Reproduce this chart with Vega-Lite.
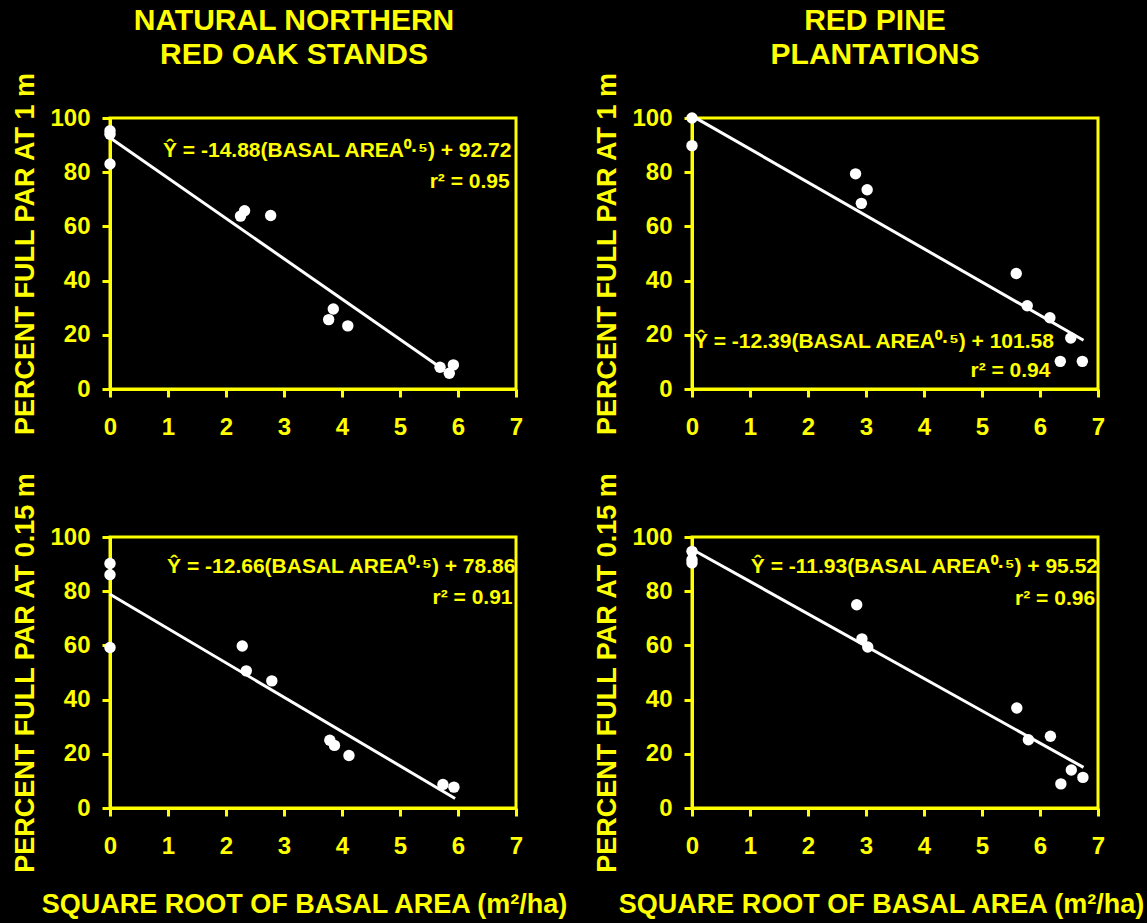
{
  "$schema": "https://vega.github.io/schema/vega-lite/v6.json",
  "background": "black",
  "padding": {"left": 10, "top": 4, "right": 5, "bottom": 5},
  "config": {
    "view": {"stroke": "#FFFF00", "strokeWidth": 3},
    "axis": {
      "domainColor": "#FFFF00", "domainWidth": 3,
      "tickColor": "#FFFF00", "tickWidth": 3, "tickSize": 8,
      "labelColor": "#FFFF00", "labelFont": "Liberation Sans", "labelFontSize": 24, "labelFontWeight": "bold",
      "titleColor": "#FFFF00", "titleFont": "Liberation Sans", "titleFontSize": 27, "titleFontWeight": "bold",
      "grid": false, "labelOverlap": false, "labelBound": false, "labelFlush": false
    },
    "title": {"color": "#FFFF00", "font": "Liberation Sans", "fontSize": 30, "fontWeight": "bold", "lineHeight": 34}
  },
  "datasets": {
    "pts": [
      {"panel": "A", "x": 0, "y": 95.3}, {"panel": "A", "x": 0, "y": 94}, {"panel": "A", "x": 0, "y": 83},
      {"panel": "A", "x": 2.25, "y": 63.8}, {"panel": "A", "x": 2.32, "y": 65.8}, {"panel": "A", "x": 2.77, "y": 64},
      {"panel": "A", "x": 3.77, "y": 25.6}, {"panel": "A", "x": 3.85, "y": 29.5}, {"panel": "A", "x": 4.1, "y": 23.3},
      {"panel": "A", "x": 5.69, "y": 8}, {"panel": "A", "x": 5.85, "y": 5.8}, {"panel": "A", "x": 5.92, "y": 8.9},
      {"panel": "B", "x": 0, "y": 100}, {"panel": "B", "x": 0, "y": 89.8}, {"panel": "B", "x": 2.82, "y": 79.4},
      {"panel": "B", "x": 3.02, "y": 73.5}, {"panel": "B", "x": 2.92, "y": 68.5}, {"panel": "B", "x": 5.59, "y": 42.6},
      {"panel": "B", "x": 5.78, "y": 30.7}, {"panel": "B", "x": 6.17, "y": 26.3}, {"panel": "B", "x": 6.53, "y": 18.8},
      {"panel": "B", "x": 6.35, "y": 10.2}, {"panel": "B", "x": 6.73, "y": 10.2},
      {"panel": "C", "x": 0, "y": 90.2}, {"panel": "C", "x": 0, "y": 86.1}, {"panel": "C", "x": 0, "y": 59.2},
      {"panel": "C", "x": 2.28, "y": 59.8}, {"panel": "C", "x": 2.35, "y": 50.6}, {"panel": "C", "x": 2.79, "y": 46.9},
      {"panel": "C", "x": 3.79, "y": 25}, {"panel": "C", "x": 3.87, "y": 23.1}, {"panel": "C", "x": 4.12, "y": 19.4},
      {"panel": "C", "x": 5.74, "y": 8.7}, {"panel": "C", "x": 5.93, "y": 7.7},
      {"panel": "D", "x": 0, "y": 94.7}, {"panel": "D", "x": 0, "y": 91.6}, {"panel": "D", "x": 0, "y": 90.4},
      {"panel": "D", "x": 2.84, "y": 75}, {"panel": "D", "x": 2.93, "y": 62.4}, {"panel": "D", "x": 3.03, "y": 59.4},
      {"panel": "D", "x": 5.6, "y": 36.9}, {"panel": "D", "x": 5.8, "y": 25.2}, {"panel": "D", "x": 6.18, "y": 26.5},
      {"panel": "D", "x": 6.54, "y": 14}, {"panel": "D", "x": 6.36, "y": 8.9}, {"panel": "D", "x": 6.74, "y": 11.3}
    ],
    "fit": [
      {"panel": "A", "x": 0, "y": 92.7}, {"panel": "A", "x": 5.66, "y": 8.5},
      {"panel": "B", "x": 0, "y": 100.8}, {"panel": "B", "x": 6.75, "y": 18.0},
      {"panel": "C", "x": 0, "y": 78.9}, {"panel": "C", "x": 5.95, "y": 3.5},
      {"panel": "D", "x": 0, "y": 95.5}, {"panel": "D", "x": 6.75, "y": 15.0}
    ],
    "notes": [
      {"panel": "A", "x": 6.92, "y": 85.5, "label": "Ŷ = -14.88(BASAL AREA⁰·⁵) + 92.72"},
      {"panel": "A", "x": 6.89, "y": 74, "label": "r² = 0.95"},
      {"panel": "B", "x": 6.24, "y": 15.3, "label": "Ŷ = -12.39(BASAL AREA⁰·⁵) + 101.58"},
      {"panel": "B", "x": 6.18, "y": 4.5, "label": "r² = 0.94"},
      {"panel": "C", "x": 6.99, "y": 86.7, "label": "Ŷ = -12.66(BASAL AREA⁰·⁵) + 78.86"},
      {"panel": "C", "x": 6.94, "y": 75.4, "label": "r² = 0.91"},
      {"panel": "D", "x": 7.0, "y": 86.7, "label": "Ŷ = -11.93(BASAL AREA⁰·⁵) + 95.52"},
      {"panel": "D", "x": 6.95, "y": 74.8, "label": "r² = 0.96"}
    ]
  },
  "columns": 2,
  "bounds": "flush",
  "spacing": {"row": 148, "column": 176},
  "concat": [
    {
      "width": 406, "height": 271,
      "title": {"text": ["NATURAL NORTHERN", "RED OAK STANDS"], "anchor": "middle", "frame": "group", "dx": -19, "offset": 2},
      "layer": [
        {"data": {"name": "fit"}, "transform": [{"filter": "datum.panel == 'A'"}],
         "mark": {"type": "line", "color": "white", "strokeWidth": 3},
         "encoding": {
           "x": {"field": "x", "type": "quantitative", "scale": {"domain": [0, 7], "nice": false},
                 "axis": {"values": [0,1,2,3,4,5,6,7], "format": "d", "title": null, "labelPadding": 18}},
           "y": {"field": "y", "type": "quantitative", "scale": {"domain": [0, 100], "nice": false},
                 "axis": {"values": [0,10,20,30,40,50,60,70,80,90,100], "labelExpr": "datum.value % 20 === 0 ? datum.label : ''", "title": "PERCENT FULL PAR AT 1 m", "labelPadding": 12, "titlePadding": 10}}
         }},
        {"data": {"name": "pts"}, "transform": [{"filter": "datum.panel == 'A'"}],
         "mark": {"type": "circle", "size": 130, "color": "white", "opacity": 1},
         "encoding": {"x": {"field": "x", "type": "quantitative"}, "y": {"field": "y", "type": "quantitative"}}},
        {"data": {"name": "notes"}, "transform": [{"filter": "datum.panel == 'A'"}],
         "mark": {"type": "text", "align": "right", "baseline": "alphabetic", "font": "Liberation Sans", "fontSize": 21, "fontWeight": "bold", "color": "#FFFF00"},
         "encoding": {"x": {"field": "x", "type": "quantitative"}, "y": {"field": "y", "type": "quantitative"}, "text": {"field": "label"}}}
      ]
    },
    {
      "width": 406, "height": 271,
      "title": {"text": ["RED PINE", "PLANTATIONS"], "anchor": "middle", "frame": "group", "dx": -20, "offset": 2},
      "layer": [
        {"data": {"name": "fit"}, "transform": [{"filter": "datum.panel == 'B'"}],
         "mark": {"type": "line", "color": "white", "strokeWidth": 3},
         "encoding": {
           "x": {"field": "x", "type": "quantitative", "scale": {"domain": [0, 7], "nice": false},
                 "axis": {"values": [0,1,2,3,4,5,6,7], "format": "d", "title": null, "labelPadding": 18}},
           "y": {"field": "y", "type": "quantitative", "scale": {"domain": [0, 100], "nice": false},
                 "axis": {"values": [0,10,20,30,40,50,60,70,80,90,100], "labelExpr": "datum.value % 20 === 0 ? datum.label : ''", "title": "PERCENT FULL PAR AT 1 m", "labelPadding": 12, "titlePadding": 10}}
         }},
        {"data": {"name": "pts"}, "transform": [{"filter": "datum.panel == 'B'"}],
         "mark": {"type": "circle", "size": 130, "color": "white", "opacity": 1},
         "encoding": {"x": {"field": "x", "type": "quantitative"}, "y": {"field": "y", "type": "quantitative"}}},
        {"data": {"name": "notes"}, "transform": [{"filter": "datum.panel == 'B'"}],
         "mark": {"type": "text", "align": "right", "baseline": "alphabetic", "font": "Liberation Sans", "fontSize": 21, "fontWeight": "bold", "color": "#FFFF00"},
         "encoding": {"x": {"field": "x", "type": "quantitative"}, "y": {"field": "y", "type": "quantitative"}, "text": {"field": "label"}}}
      ]
    },
    {
      "width": 406, "height": 271,
      "layer": [
        {"data": {"name": "fit"}, "transform": [{"filter": "datum.panel == 'C'"}],
         "mark": {"type": "line", "color": "white", "strokeWidth": 3},
         "encoding": {
           "x": {"field": "x", "type": "quantitative", "scale": {"domain": [0, 7], "nice": false},
                 "axis": {"values": [0,1,2,3,4,5,6,7], "format": "d", "title": "SQUARE ROOT OF BASAL AREA (m²/ha)", "labelPadding": 18, "titlePadding": 33, "titleX": 194}},
           "y": {"field": "y", "type": "quantitative", "scale": {"domain": [0, 100], "nice": false},
                 "axis": {"values": [0,10,20,30,40,50,60,70,80,90,100], "labelExpr": "datum.value % 20 === 0 ? datum.label : ''", "title": "PERCENT FULL PAR AT 0.15 m", "labelPadding": 12, "titlePadding": 10}}
         }},
        {"data": {"name": "pts"}, "transform": [{"filter": "datum.panel == 'C'"}],
         "mark": {"type": "circle", "size": 130, "color": "white", "opacity": 1},
         "encoding": {"x": {"field": "x", "type": "quantitative"}, "y": {"field": "y", "type": "quantitative"}}},
        {"data": {"name": "notes"}, "transform": [{"filter": "datum.panel == 'C'"}],
         "mark": {"type": "text", "align": "right", "baseline": "alphabetic", "font": "Liberation Sans", "fontSize": 21, "fontWeight": "bold", "color": "#FFFF00"},
         "encoding": {"x": {"field": "x", "type": "quantitative"}, "y": {"field": "y", "type": "quantitative"}, "text": {"field": "label"}}}
      ]
    },
    {
      "width": 406, "height": 271,
      "layer": [
        {"data": {"name": "fit"}, "transform": [{"filter": "datum.panel == 'D'"}],
         "mark": {"type": "line", "color": "white", "strokeWidth": 3},
         "encoding": {
           "x": {"field": "x", "type": "quantitative", "scale": {"domain": [0, 7], "nice": false},
                 "axis": {"values": [0,1,2,3,4,5,6,7], "format": "d", "title": "SQUARE ROOT OF BASAL AREA (m²/ha)", "labelPadding": 18, "titlePadding": 33, "titleX": 189}},
           "y": {"field": "y", "type": "quantitative", "scale": {"domain": [0, 100], "nice": false},
                 "axis": {"values": [0,10,20,30,40,50,60,70,80,90,100], "labelExpr": "datum.value % 20 === 0 ? datum.label : ''", "title": "PERCENT FULL PAR AT 0.15 m", "labelPadding": 12, "titlePadding": 10}}
         }},
        {"data": {"name": "pts"}, "transform": [{"filter": "datum.panel == 'D'"}],
         "mark": {"type": "circle", "size": 130, "color": "white", "opacity": 1},
         "encoding": {"x": {"field": "x", "type": "quantitative"}, "y": {"field": "y", "type": "quantitative"}}},
        {"data": {"name": "notes"}, "transform": [{"filter": "datum.panel == 'D'"}],
         "mark": {"type": "text", "align": "right", "baseline": "alphabetic", "font": "Liberation Sans", "fontSize": 21, "fontWeight": "bold", "color": "#FFFF00"},
         "encoding": {"x": {"field": "x", "type": "quantitative"}, "y": {"field": "y", "type": "quantitative"}, "text": {"field": "label"}}}
      ]
    }
  ]
}
